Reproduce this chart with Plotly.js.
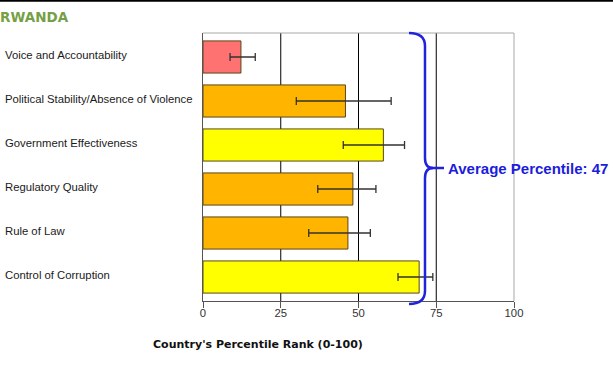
<!DOCTYPE html>
<html>
<head>
<meta charset="utf-8">
<script src="https://cdn.plot.ly/plotly-3.0.1.min.js"></script>
<style>html,body{margin:0;padding:0;background:#fff;}#chart{width:613px;height:366px;}</style>
</head>
<body>
<div id="chart"></div>
<script>
// ---- data ----
const country = "RWANDA";
const indicators = ["Voice and Accountability", "Political Stability/Absence of Violence", "Government Effectiveness", "Regulatory Quality", "Rule of Law", "Control of Corruption"];
const percentile = [12.2, 45.8, 58.0, 48.2, 46.6, 69.5];
const lowerBound = [8.7, 30.0, 45.1, 36.9, 34.0, 62.7];
const upperBound = [16.8, 60.5, 64.8, 55.6, 53.8, 73.9];
const barColors = ["#FF7272", "#FFB400", "#FFFF00", "#FFB400", "#FFB400", "#FFFF00"];
const xTicks = [0, 25, 50, 75, 100];
const averageLabel = "Average Percentile: 47";
const xTitle = "Country's Percentile Rank (0-100)";

// ---- layout geometry ----
const W = 613, H = 366;
const mL = 203, mR = 99, mT = 33, mB = 65;
const pw = W - mL - mR, ph = H - mT - mB;
function px(x) { return (x - mL) / pw; }
function py(y) { return (H - mB - y) / ph; }
function P(x, y) { return px(x).toFixed(4) + ',' + py(y).toFixed(4); }

const trace = {
  type: 'bar',
  orientation: 'h',
  y: indicators,
  x: percentile,
  width: 0.73,
  marker: { color: barColors, line: { color: '#5a4617', width: 1 } },
  error_x: {
    type: 'data', symmetric: false,
    array: percentile.map((v, i) => upperBound[i] - v),
    arrayminus: percentile.map((v, i) => v - lowerBound[i]),
    color: '#333333', thickness: 1.3, width: 4
  },
  hoverinfo: 'none'
};

const bracePath = 'M' + P(409, 33) + ' Q' + P(425, 33) + ' ' + P(425, 46) +
  ' L' + P(425, 158) + ' Q' + P(425, 168) + ' ' + P(433, 168) +
  ' Q' + P(425, 168) + ' ' + P(425, 178) + ' L' + P(425, 291) +
  ' Q' + P(425, 304) + ' ' + P(409, 304);

const shapes = [
  ...[25, 50, 75].map(v => ({ type: 'line', xref: 'x', yref: 'paper', x0: v, x1: v, y0: 0, y1: 1, layer: 'between', line: { color: '#000', width: 1 } })),
  { type: 'line', xref: 'paper', yref: 'paper', x0: 0, x1: 1, y0: 1, y1: 1, layer: 'between', line: { color: '#a8a8a8', width: 1 } },
  { type: 'line', xref: 'paper', yref: 'paper', x0: 1, x1: 1, y0: 0, y1: 1, layer: 'between', line: { color: '#a8a8a8', width: 1 } },
  { type: 'path', xref: 'paper', yref: 'paper', path: bracePath, line: { color: '#2222dd', width: 2.5 } },
  { type: 'line', xref: 'paper', yref: 'paper', x0: px(430), x1: px(444), y0: py(168), y1: py(168), line: { color: '#2222dd', width: 2.5 } },
  { type: 'line', xref: 'paper', yref: 'paper', x0: px(0), x1: px(W), y0: py(0.8), y1: py(0.8), line: { color: '#000', width: 2 } }
];

const annotations = indicators.map(name => ({
  xref: 'paper', yref: 'y', x: px(3), y: name, xanchor: 'left', yanchor: 'middle', yshift: 2,
  text: name, showarrow: false,
  font: { family: 'Liberation Sans, Arial, sans-serif', size: 11.3, color: '#1a1a1a' }
}));
annotations.push({
  xref: 'paper', yref: 'paper', x: px(446), y: py(168), xanchor: 'left', yanchor: 'middle',
  text: '<b>' + averageLabel + '</b>', showarrow: false,
  font: { family: 'Liberation Sans, Arial, sans-serif', size: 15, color: '#1c1cdc' }
});
annotations.push({
  xref: 'paper', yref: 'paper', x: px(258), y: py(344), xanchor: 'center', yanchor: 'middle',
  text: '<b>' + xTitle + '</b>', showarrow: false,
  font: { family: 'DejaVu Sans, Verdana, sans-serif', size: 11, color: '#111' }
});

const layout = {
  width: W, height: H,
  margin: { l: mL, r: mR, t: mT, b: mB, pad: 0 },
  paper_bgcolor: '#fff', plot_bgcolor: '#fff',
  showlegend: false,
  title: {
    text: '<b>' + country + '</b>', x: 0, xref: 'container', xanchor: 'left',
    y: 1 - 17 / H, yref: 'container', yanchor: 'middle',
    font: { family: 'DejaVu Sans, Verdana, sans-serif', size: 13.5, color: '#76a045' }
  },
  xaxis: {
    range: [0, 100], tickvals: xTicks, ticktext: xTicks.map(String),
    showgrid: false, zeroline: false,
    showline: true, linecolor: '#555', linewidth: 1,
    ticks: 'outside', ticklen: 6, tickcolor: '#555', tickwidth: 1,
    ticklabelstandoff: -5,
    tickfont: { family: 'Liberation Sans, Arial, sans-serif', size: 11.3, color: '#333' },
    fixedrange: true
  },
  yaxis: {
    type: 'category', categoryorder: 'array', categoryarray: indicators,
    range: [5.545, -0.545], showticklabels: false, showgrid: false, zeroline: false,
    showline: true, linecolor: '#555', linewidth: 1, ticks: '', fixedrange: true
  },
  shapes: shapes,
  annotations: annotations
};

Plotly.newPlot('chart', [trace], layout, { staticPlot: true, displayModeBar: false });
</script>
</body>
</html>
